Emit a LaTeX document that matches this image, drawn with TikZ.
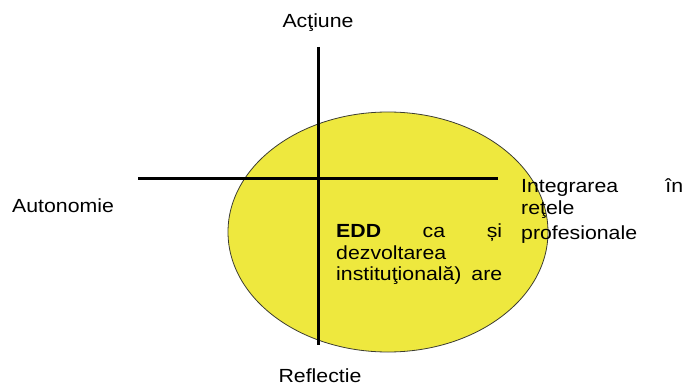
\documentclass[tikz,border=0pt]{standalone}
\usepackage{fontspec}
\setmainfont{Liberation Sans}[FakeStretch=1.12]
\usetikzlibrary{shapes.geometric}
\definecolor{ellfill}{RGB}{238,232,62}
\definecolor{ellline}{RGB}{60,60,50}
\tikzset{
  lbl/.style={inner sep=0pt, font=\fontsize{19}{22}\selectfont},
  jline/.style={lbl, anchor=base west, text width=#1, align=left},
  axis/.style={line width=3pt, black}
}
\begin{document}
\begin{tikzpicture}[x=1pt,y=-1pt]
\useasboundingbox (0,0) rectangle (687,385);
\node[draw=ellline, line width=0.8pt, fill=ellfill, ellipse, minimum width=320pt, minimum height=240pt, inner sep=0pt] (ell) at (388,232) {};
\coordinate (vtop) at (318,47);
\coordinate (vbot) at (318,345);
\coordinate (hleft) at (138,178);
\coordinate (hright) at (498,178);
\draw[axis] (vtop) -- (vbot);
\draw[axis] (hleft) -- (hright);
\node[lbl, anchor=base] (act) at (318,28) {Acţiune};
\node[lbl, anchor=base west] (aut) at (12,212) {Autonomie};
\node[lbl, anchor=base] (ref) at (320,382) {Reflectie};
\node[jline=162pt] (int1) at (521,192) {Integrarea\hfill în};
\node[jline=162pt] (int2) at (521,214) {reţele};
\node[jline=162pt] (int3) at (521,239) {profesionale};
\node[jline=166pt] (edd1) at (336,237) {\textbf{EDD}\hfill ca\hfill și};
\node[jline=166pt] (edd2) at (336,259) {dezvoltarea};
\node[jline=166pt] (edd3) at (336,280) {instituţională)\hfill are};
\end{tikzpicture}
\end{document}
